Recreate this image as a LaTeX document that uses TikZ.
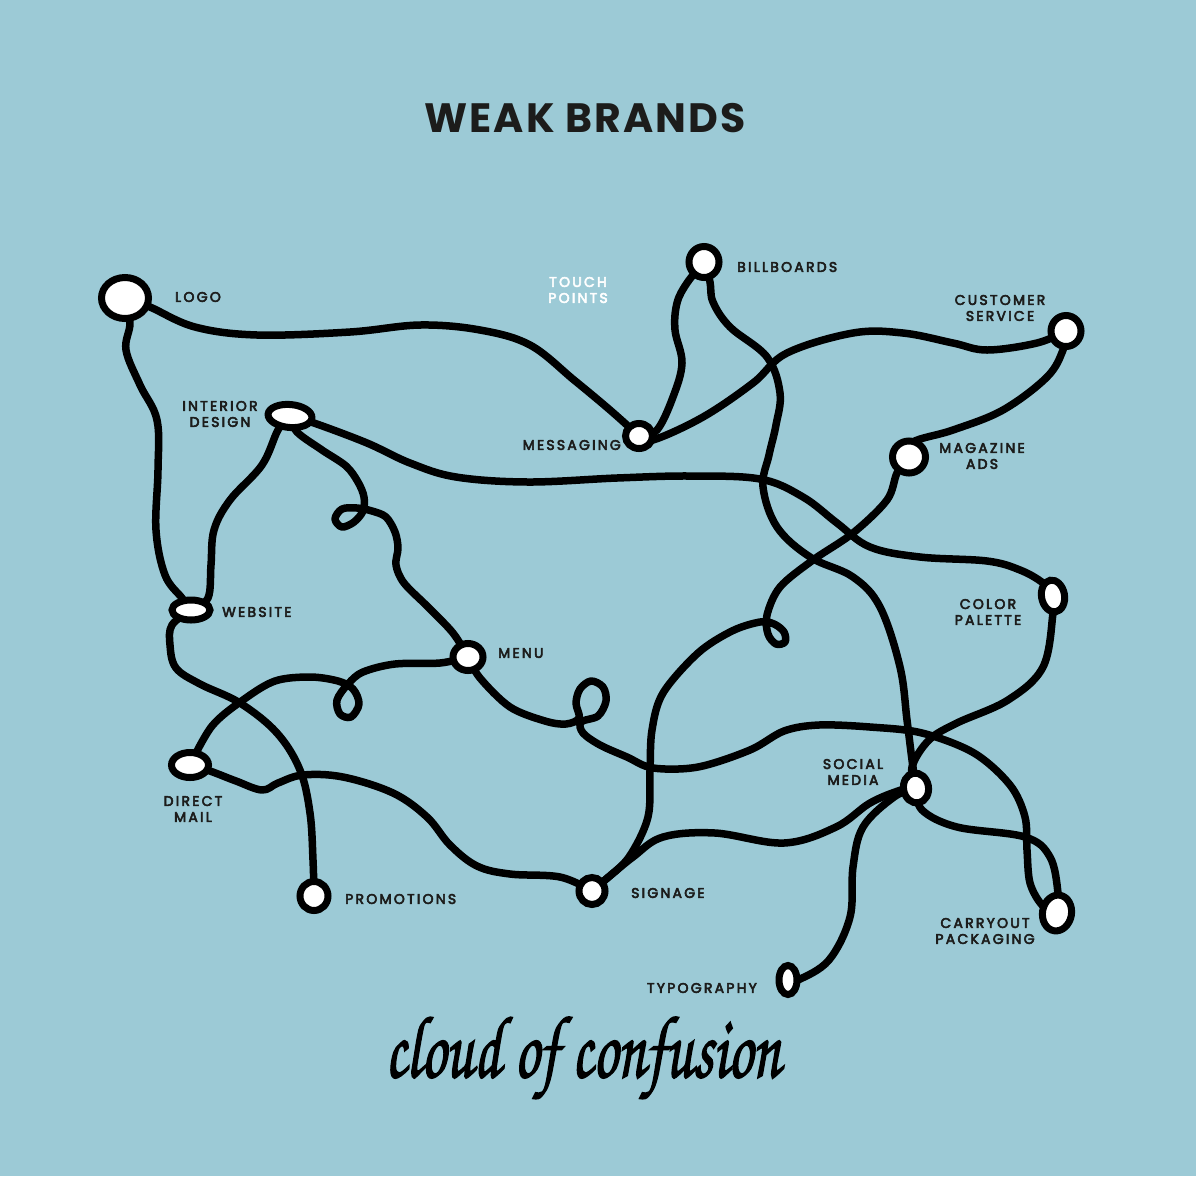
\documentclass[tikz,border=0pt]{standalone}
\usepackage{fontspec}
\setmainfont{Poppins}
\newfontfamily\lblfont[LetterSpace=16,FakeBold=4]{Poppins}
\newfontfamily\titlefont[LetterSpace=5]{Poppins}
\newfontfamily\handfont[FakeBold=2]{texgyrechorus-mediumitalic.otf}
\usetikzlibrary{shapes.geometric}
\pgfdeclarelayer{bgfill}
\pgfdeclarelayer{edges}
\pgfsetlayers{bgfill,edges,main}
\definecolor{bgblue}{RGB}{156,202,214}
\definecolor{ink}{RGB}{28,28,27}
\begin{document}
\begin{tikzpicture}[x=1pt,y=-1pt,
  blob/.style={ellipse, draw=black, fill=white, line width=7pt, inner sep=0pt},
  link/.style={line width=7.5pt, black, line cap=round, line join=round},
  lbl/.style={text=ink, font=\lblfont\fontsize{14}{16}\selectfont, align=center, inner sep=0pt}]
\begin{pgfonlayer}{bgfill}
\fill[bgblue] (0,0) rectangle (1196,1176);
\end{pgfonlayer}
\useasboundingbox (0,0) rectangle (1196,1176);

% title
\node[text=ink, font=\titlefont\bfseries\fontsize{41}{48}\selectfont, inner sep=0pt] (title) at (585,118) {WEAK BRANDS};

% blobs
\node[blob, minimum width=47pt, minimum height=41pt] (logo) at (125,298) {};
\node[blob, minimum width=44pt, minimum height=23pt, rotate=-5] (int) at (290,416) {};
\node[blob, minimum width=38pt, minimum height=20pt] (web) at (191,610) {};
\node[blob, minimum width=30pt, minimum height=27pt] (menu) at (468,657) {};
\node[blob, minimum width=37pt, minimum height=25pt] (dm) at (190,765) {};
\node[blob, minimum width=28pt, minimum height=29pt] (promo) at (314,896) {};
\node[blob, minimum width=26pt, minimum height=27pt] (sign) at (592,891) {};
\node[blob, minimum width=27pt, minimum height=25pt] (msg) at (639,436) {};
\node[blob, minimum width=30pt, minimum height=31pt] (bill) at (704,262) {};
\node[blob, minimum width=30pt, minimum height=31pt] (cust) at (1066,331) {};
\node[blob, minimum width=33pt, minimum height=32pt] (mag) at (909,457) {};
\node[blob, minimum width=23pt, minimum height=32pt, rotate=10] (cp) at (1053,596) {};
\node[blob, minimum width=25pt, minimum height=30pt, rotate=10] (sm) at (916,788) {};
\node[blob, minimum width=29pt, minimum height=36pt, rotate=-10] (carry) at (1057,913) {};
\node[blob, minimum width=18pt, minimum height=29pt] (typo) at (788,980) {};

% labels
\node[lbl, anchor=west] (llogo) at (175,297) {LOGO};
\node[lbl] (lint) at (220,414) {INTERIOR\\DESIGN};
\node[lbl, anchor=west] (lweb) at (222,612) {WEBSITE};
\node[lbl, anchor=west] (lmenu) at (498,653) {MENU};
\node[lbl] (ldm) at (193,809) {DIRECT\\MAIL};
\node[lbl, anchor=west] (lpromo) at (345,899) {PROMOTIONS};
\node[lbl, anchor=west] (lsign) at (631,893) {SIGNAGE};
\node[lbl, anchor=east] (ltypo) at (757,988) {TYPOGRAPHY};
\node[lbl] (lcarry) at (985,931) {CARRYOUT\\PACKAGING};
\node[lbl] (lsm) at (853,772) {SOCIAL\\MEDIA};
\node[lbl] (lcp) at (988,612) {COLOR\\PALETTE};
\node[lbl] (lmag) at (982,456) {MAGAZINE\\ADS};
\node[lbl] (lcust) at (1000,308) {CUSTOMER\\SERVICE};
\node[lbl, anchor=west] (lbill) at (737,267) {BILLBOARDS};
\node[lbl, anchor=east] (lmsg) at (621,445) {MESSAGING};
\node[lbl, text=white] (ltp) at (578,290) {TOUCH\\POINTS};

% handwriting
\node[text=black, inner sep=0pt, anchor=base] (hand) at (583,1077) {\resizebox{395pt}{60pt}{\handfont\fontsize{60}{60}\selectfont cloud of confusion}};

\begin{pgfonlayer}{edges}
% logo - messaging
\draw[link] plot[smooth, tension=0.6] coordinates {(logo.center) (150,307) (195,327) (257,335) (350,332) (420,325) (480,330) (530,345) (574,380) (610,410) (msg.center)};
% logo - website
\draw[link] plot[smooth, tension=0.6] coordinates {(logo.center) (130,323) (126,350) (140,385) (157,420) (158,470) (156,530) (165,575) (182,598) (web.center)};
% interior - website
\draw[link] plot[smooth, tension=0.6] coordinates {(int.center) (278,430) (262,465) (230,500) (214,530) (211,565) (208,598) (web.center)};
% interior - color palette
\draw[link] plot[smooth, tension=0.6] coordinates {(int.center) (314,423) (367,443) (410,463) (456,477) (528,482) (617,478) (689,476) (760,479) (803,497) (837,523) (870,547) (920,557) (987,561) (1020,570) (1043,583) (cp.center)};
% interior - menu (loop)
\draw[link] plot[smooth, tension=0.55] coordinates {(int.center) (297,432) (322,450) (346,466) (358,482) (364,497) (363,511) (354,522) (342,527) (335,519) (342,509) (357,508) (372,511) (386,517) (395,532) (398,548) (396,565) (404,583) (428,607) (453,633) (menu.center)};
% menu - direct mail (loop)
\draw[link] plot[smooth, tension=0.55] coordinates {(menu.center) (440,663) (395,664) (363,672) (348,684) (337,700) (340,714) (351,717) (359,704) (353,689) (338,681) (310,677) (275,681) (243,700) (212,726) (dm.center)};
% direct mail - signage
\draw[link] plot[smooth, tension=0.6] coordinates {(dm.center) (210,771) (236,781) (262,790) (278,783) (303,775) (343,777) (393,793) (427,817) (450,845) (477,866) (510,874) (560,877) (sign.center)};
% website - promotions
\draw[link] plot[smooth, tension=0.6] coordinates {(web.center) (172,625) (170,645) (176,668) (200,684) (240,703) (277,733) (300,770) (310,813) (313,860) (promo.center)};
% menu - carryout (loop)
\draw[link] plot[smooth, tension=0.55] coordinates {(menu.center) (480,678) (510,707) (545,721) (566,724) (579,718) (576,703) (580,689) (591,681) (603,687) (606,701) (598,716) (581,722) (583,733) (600,745) (627,757) (653,768) (698,767) (750,750) (784,731) (819,725) (870,727) (922,733) (974,753) (1010,785) (1025,817) (1027,850) (1030,883) (1042,905) (carry.center)};
% messaging - billboards
\draw[link] plot[smooth, tension=0.6] coordinates {(msg.center) (657,430) (673,397) (682,363) (675,330) (677,303) (687,283) (bill.center)};
% billboards - social media
\draw[link] plot[smooth, tension=0.6] coordinates {(bill.center) (710,282) (713,302) (730,327) (767,357) (780,393) (776,425) (769,455) (763,487) (777,527) (810,557) (853,577) (880,607) (900,667) (907,720) (912,760) (sm.center)};
% messaging - customer service
\draw[link] plot[smooth, tension=0.6] coordinates {(msg.center) (653,440) (703,417) (753,383) (787,353) (853,333) (903,333) (953,343) (987,350) (1037,343) (cust.center)};
% customer service - magazine
\draw[link] plot[smooth, tension=0.6] coordinates {(cust.center) (1063,350) (1047,377) (1003,410) (953,430) (913,442) (mag.center)};
% magazine - signage (loop)
\draw[link] plot[smooth, tension=0.55] coordinates {(mag.center) (897,473) (887,500) (853,533) (813,560) (780,587) (767,615) (768,634) (776,644) (785,642) (784,632) (774,624) (760,622) (732,631) (698,653) (663,693) (652,730) (650,770) (648,817) (629,857) (605,880) (sign.center)};
% signage - social
\draw[link] plot[smooth, tension=0.6] coordinates {(sign.center) (605,880) (633,857) (663,837) (715,833) (784,843) (836,827) (870,803) (901,790) (sm.center)};
% social - typography
\draw[link] plot[smooth, tension=0.6] coordinates {(sm.center) (894,797) (863,827) (853,867) (850,917) (829,960) (798,980) (typo.center)};
% social - carryout
\draw[link] plot[smooth, tension=0.6] coordinates {(sm.center) (922,810) (957,827) (1025,837) (1050,857) (1058,893) (carry.center)};
% color palette - social
\draw[link] plot[smooth, tension=0.6] coordinates {(cp.center) (1053,613) (1043,667) (1008,700) (957,723) (929,740) (912,767) (sm.center)};
\end{pgfonlayer}
\end{tikzpicture}
\end{document}
